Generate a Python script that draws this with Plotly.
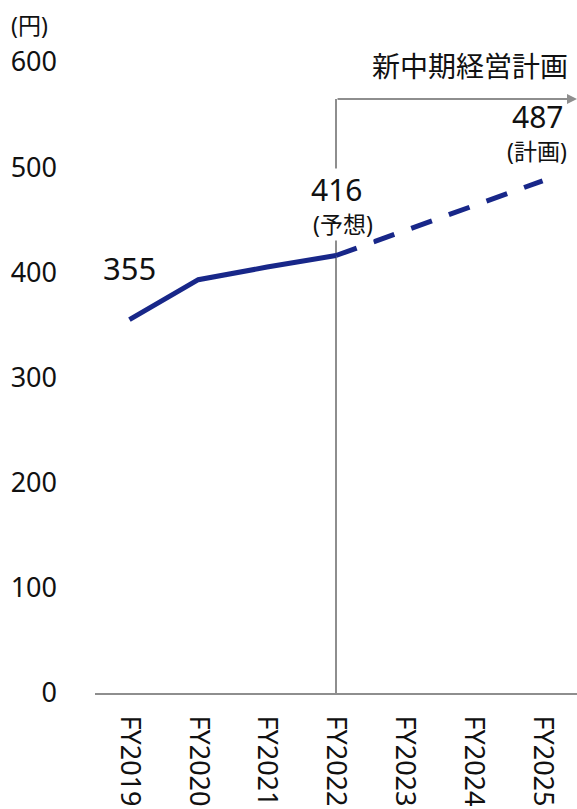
import plotly.graph_objects as go

# ---- data ----
categories = ["FY2019", "FY2020", "FY2021", "FY2022", "FY2023", "FY2024", "FY2025"]
actual_years = ["FY2019", "FY2020", "FY2021", "FY2022"]
actual_values = [355, 393, 405, 416]
plan_years = ["FY2022", "FY2025"]
plan_values = [416, 487]
y_ticks = [0, 100, 200, 300, 400, 500, 600]

LINE_COLOR = "#182789"
GRAY = "#8e8e8e"
TXT = "#111111"
FONT = "Noto Sans, Noto Sans CJK JP, sans-serif"

fig = go.Figure()
fig.add_trace(go.Scatter(
    x=actual_years, y=actual_values, mode="lines",
    line=dict(color=LINE_COLOR, width=5), hoverinfo="skip", showlegend=False,
))
fig.add_trace(go.Scatter(
    x=plan_years, y=plan_values, mode="lines",
    line=dict(color=LINE_COLOR, width=5, dash="22px,18px"), hoverinfo="skip", showlegend=False,
))

bracket_y = 0.9414

# vertical bracket line
fig.add_shape(type="line", xref="x", yref="paper", x0=3, x1=3, y0=0, y1=bracket_y,
              line=dict(color=GRAY, width=2), layer="below")
# horizontal arrow
fig.add_annotation(xref="x", yref="paper", x=6.5, y=bracket_y,
                   axref="x", ayref="pixel", ax=3, ay=0, text="",
                   showarrow=True, arrowhead=2, arrowsize=1, arrowwidth=2,
                   arrowcolor=GRAY, standoff=0)

annos = [
    dict(x=actual_years[0], y=404, text=str(actual_values[0]), size=31, bg=None),
    dict(x=3.0, y=479, text=str(actual_values[-1]), size=30, bg="white"),
    dict(x=3.1, y=446, text="(予想)", size=23, bg="white"),
    dict(x=5.93, y=548, text=str(plan_values[-1]), size=30, bg=None),
    dict(x=5.92, y=515, text="(計画)", size=23, bg=None),
]
for a in annos:
    fig.add_annotation(xref="x", yref="y", x=a["x"], y=a["y"], text=a["text"],
                       showarrow=False, xanchor="center", yanchor="middle",
                       font=dict(size=a["size"], color=TXT, family=FONT),
                       bgcolor=a["bg"] if a["bg"] else "rgba(0,0,0,0)", borderpad=0)

fig.add_annotation(xref="paper", yref="paper", x=0.985, y=0.993, text="新中期経営計画",
                   showarrow=False, xanchor="right", yanchor="middle",
                   font=dict(size=28, color=TXT, family=FONT))
fig.add_annotation(xref="paper", yref="paper", x=-0.178, y=1.0586, text="(円)",
                   showarrow=False, xanchor="left", yanchor="middle",
                   font=dict(size=23, color=TXT, family=FONT))

fig.update_layout(
    width=577, height=809,
    margin=dict(l=95, r=0, t=62, b=116),
    paper_bgcolor="white", plot_bgcolor="white",
    font=dict(family=FONT, color=TXT),
    xaxis=dict(type="category", categoryorder="array", categoryarray=categories,
               range=[-0.5, 6.5], showline=True, linecolor=GRAY, linewidth=2,
               showgrid=False, zeroline=False, ticks="", tickangle=90,
               tickfont=dict(size=27, color=TXT, family=FONT), ticklabelstandoff=15),
    yaxis=dict(range=[0, 600], tickvals=y_ticks, showline=False, showgrid=False,
               zeroline=False, ticks="", tickfont=dict(size=27, color=TXT, family=FONT),
               ticklabelstandoff=37),
)

fig.write_html("out.html")
